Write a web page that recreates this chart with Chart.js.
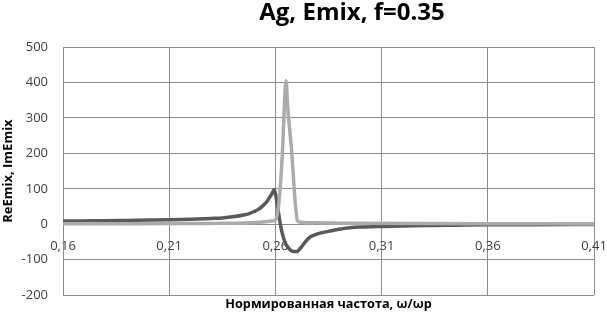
<!DOCTYPE html>
<html>
<head>
<meta charset="utf-8">
<script src="https://cdn.jsdelivr.net/npm/chart.js@4"></script>
<style>
  html, body { margin: 0; padding: 0; background: #ffffff; }
  #box { width: 607px; height: 318px; }
</style>
</head>
<body>
<div id="box"><canvas id="chart1"></canvas></div>
<script>
// Датасеты (оценка по картинке)
const chartTitle = "Ag, Emix, f=0.35";
const xAxisTitle = "Нормированная частота, ω/ωp";
const yAxisTitle = "ReEmix, ImEmix";

const xTicks = [0.16, 0.21, 0.26, 0.31, 0.36, 0.41];
const yTicks = [-200, -100, 0, 100, 200, 300, 400, 500];

// ReEmix (тёмная линия)
const reX = [0.16, 0.17, 0.18, 0.19, 0.20, 0.21, 0.22, 0.23, 0.235, 0.24, 0.245, 0.248, 0.25, 0.252, 0.254, 0.256, 0.2575, 0.2585, 0.2595, 0.2605, 0.2614, 0.2622, 0.263, 0.2645, 0.266, 0.268, 0.270, 0.272, 0.274, 0.2763, 0.281, 0.285, 0.29, 0.295, 0.30, 0.31, 0.32, 0.33, 0.34, 0.35, 0.36, 0.38, 0.41];
const reY = [9, 9.5, 10, 11, 12, 13, 14.5, 16.5, 18, 21, 26, 31, 36, 42, 52, 64, 78, 88, 98, 70, 36, 5, -20, -50, -66, -76, -77, -66, -50, -36, -25, -20, -14, -10, -8, -6, -4.5, -3.5, -3, -2, -1.5, -1, -0.5];

// ImEmix (светлая линия)
const imX = [0.16, 0.19, 0.21, 0.23, 0.24, 0.25, 0.255, 0.258, 0.26, 0.2617, 0.2633, 0.2642, 0.265, 0.2658, 0.2677, 0.2693, 0.2704, 0.272, 0.28, 0.30, 0.33, 0.36, 0.41];
const imY = [1.5, 1.8, 2, 2.5, 3, 5, 7, 9, 12, 64, 202, 330, 405, 330, 202, 64, 10, 6, 4, 3, 2, 1.5, 1];

const fontFamily = '"Open Sans", "DejaVu Sans", sans-serif';
const gridColor = "#8c8c8c";
const textColor = "#404040";

// Заголовок рисуем сами, чтобы сдвинуть его как в оригинале
const titlePlugin = {
  id: "customTitle",
  afterDraw(chart) {
    const ctx = chart.ctx;
    ctx.save();
    ctx.font = "bold 24px " + fontFamily;
    ctx.fillStyle = "#000000";
    ctx.textAlign = "center";
    ctx.textBaseline = "middle";
    ctx.fillText(chartTitle, 352, 13);
    ctx.restore();
  },
};

function toPoints(xs, ys) {
  return xs.map((x, i) => ({ x: x, y: ys[i] }));
}

document.addEventListener("DOMContentLoaded", function () {
  const ctx = document.getElementById("chart1").getContext("2d");
  new Chart(ctx, {
    type: "line",
    data: {
      datasets: [
        {
          label: "ImEmix",
          data: toPoints(imX, imY),
          borderColor: "#ababab",
          borderWidth: 3.5,
          pointRadius: 0,
          cubicInterpolationMode: "monotone",
          fill: false,
        },
        {
          label: "ReEmix",
          data: toPoints(reX, reY),
          borderColor: "#595959",
          borderWidth: 3.5,
          pointRadius: 0,
          cubicInterpolationMode: "monotone",
          fill: false,
        },
      ],
    },
    options: {
      responsive: true,
      maintainAspectRatio: false,
      animation: false,
      layout: { padding: { top: 47, right: 13, left: 0, bottom: 0 } },
      plugins: {
        legend: { display: false },
        tooltip: { enabled: false },
        title: { display: false },
        subtitle: {
          display: true,
          position: "bottom",
          fullSize: false,
          text: xAxisTitle,
          color: "#000000",
          font: { family: fontFamily, size: 12.7, weight: "bold" },
          padding: { top: 2, bottom: 3 },
        },
      },
      scales: {
        x: {
          type: "linear",
          position: { y: 0 },
          min: 0.16,
          max: 0.41,
          afterBuildTicks: (scale) => {
            scale.ticks = xTicks.map((v) => ({ value: v }));
          },
          afterFit: (scale) => {
            scale.paddingLeft = 0;
            scale.paddingRight = 0;
          },
          grid: { color: gridColor, drawTicks: false },
          border: { color: gridColor },
          ticks: {
            color: textColor,
            padding: 14,
            maxRotation: 0,
            font: { family: fontFamily, size: 13 },
            callback: (v) => v.toFixed(2).replace(".", ","),
          },
        },
        y: {
          min: -200,
          max: 500,
          afterBuildTicks: (scale) => {
            scale.ticks = yTicks.map((v) => ({ value: v }));
          },
          afterFit: (scale) => {
            scale.width = 63;
          },
          grid: { color: gridColor, drawTicks: false },
          border: { color: gridColor },
          ticks: {
            color: textColor,
            padding: 15,
            font: { family: fontFamily, size: 13 },
          },
          title: {
            display: true,
            text: yAxisTitle,
            color: "#000000",
            font: { family: fontFamily, size: 13, weight: "bold" },
            padding: { top: 0, bottom: 0 },
          },
        },
      },
    },
    plugins: [titlePlugin],
  });
});
</script>
</body>
</html>
